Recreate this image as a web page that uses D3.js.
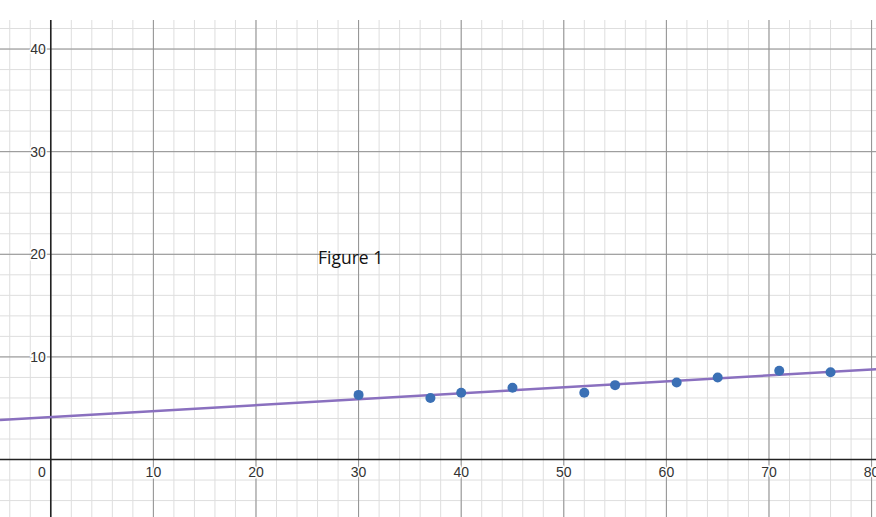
<!DOCTYPE html>
<html><head><meta charset="utf-8">
<script src="https://cdn.jsdelivr.net/npm/d3@7"></script>
<style>body{margin:0;background:#fff}svg{display:block}</style>
</head><body>
<script>
const xData = [30, 37, 40, 45, 52, 55, 61, 65, 71, 76];
const yData = [6.3, 6.0, 6.5, 7.0, 6.5, 7.25, 7.5, 8.0, 8.65, 8.5];
const lineIntercept = 4.14;
const lineSlope = 0.058;
const xTicks = [0, 10, 20, 30, 40, 50, 60, 70, 80];
const yTicks = [10, 20, 30, 40];
const title = "Figure 1";

(function () {
const W = 876, H = 517, topY = 20;
const svg = d3.select("body").append("svg").attr("width", W).attr("height", H);
const x = d3.scaleLinear().domain([-4.95, 80.43]).range([0, W]);
const y = d3.scaleLinear().domain([-5.6, 42.83]).range([H, topY]);

const g = svg.append("g");
const minorX = d3.range(-4, 81, 2), minorY = d3.range(-4, 43, 2);
g.selectAll(".mx").data(minorX).join("line")
  .attr("x1", d => x(d)).attr("x2", d => x(d)).attr("y1", topY).attr("y2", H)
  .attr("stroke", "#dedede").attr("stroke-width", 1);
g.selectAll(".my").data(minorY).join("line")
  .attr("y1", d => y(d)).attr("y2", d => y(d)).attr("x1", 0).attr("x2", W)
  .attr("stroke", "#dedede").attr("stroke-width", 1);
g.selectAll(".Mx").data(xTicks.filter(d => d !== 0)).join("line")
  .attr("x1", d => x(d)).attr("x2", d => x(d)).attr("y1", topY).attr("y2", H)
  .attr("stroke", "#919191").attr("stroke-width", 1);
g.selectAll(".My").data(yTicks).join("line")
  .attr("y1", d => y(d)).attr("y2", d => y(d)).attr("x1", 0).attr("x2", W)
  .attr("stroke", "#919191").attr("stroke-width", 1);
g.append("line").attr("x1", x(0)).attr("x2", x(0)).attr("y1", topY).attr("y2", H)
  .attr("stroke", "#222").attr("stroke-width", 1.6);
g.append("line").attr("y1", y(0)).attr("y2", y(0)).attr("x1", 0).attr("x2", W)
  .attr("stroke", "#222").attr("stroke-width", 1.6);

const lab = svg.append("g").attr("font-family", "Arial, 'Liberation Sans', sans-serif")
  .attr("font-size", 14).attr("fill", "#333");
lab.selectAll(".xl").data(xTicks).join("text")
  .attr("x", d => d === 0 ? x(0) - 5 : x(d)).attr("y", y(0) + 17)
  .attr("text-anchor", d => d === 0 ? "end" : "middle")
  .attr("stroke", "#fff").attr("stroke-width", 3).attr("paint-order", "stroke")
  .text(d => d);
lab.selectAll(".yl").data(yTicks).join("text")
  .attr("x", x(0) - 5).attr("y", d => y(d) + 5).attr("text-anchor", "end")
  .attr("stroke", "#fff").attr("stroke-width", 3).attr("paint-order", "stroke")
  .text(d => d);

const xr = x.domain();
svg.append("line")
  .attr("x1", x(xr[0])).attr("y1", y(lineIntercept + lineSlope * xr[0]))
  .attr("x2", x(xr[1])).attr("y2", y(lineIntercept + lineSlope * xr[1]))
  .attr("stroke", "#8a70bf").attr("stroke-width", 2.5);

svg.selectAll(".pt").data(xData).join("circle")
  .attr("cx", d => x(d)).attr("cy", (d, i) => y(yData[i])).attr("r", 5)
  .attr("fill", "#3b70b5");

svg.append("text").attr("x", 318).attr("y", 264)
  .attr("font-family", "'Open Sans', sans-serif").attr("font-size", 17.5).attr("fill", "#111")
  .text(title);
})();
</script>
</body></html>
